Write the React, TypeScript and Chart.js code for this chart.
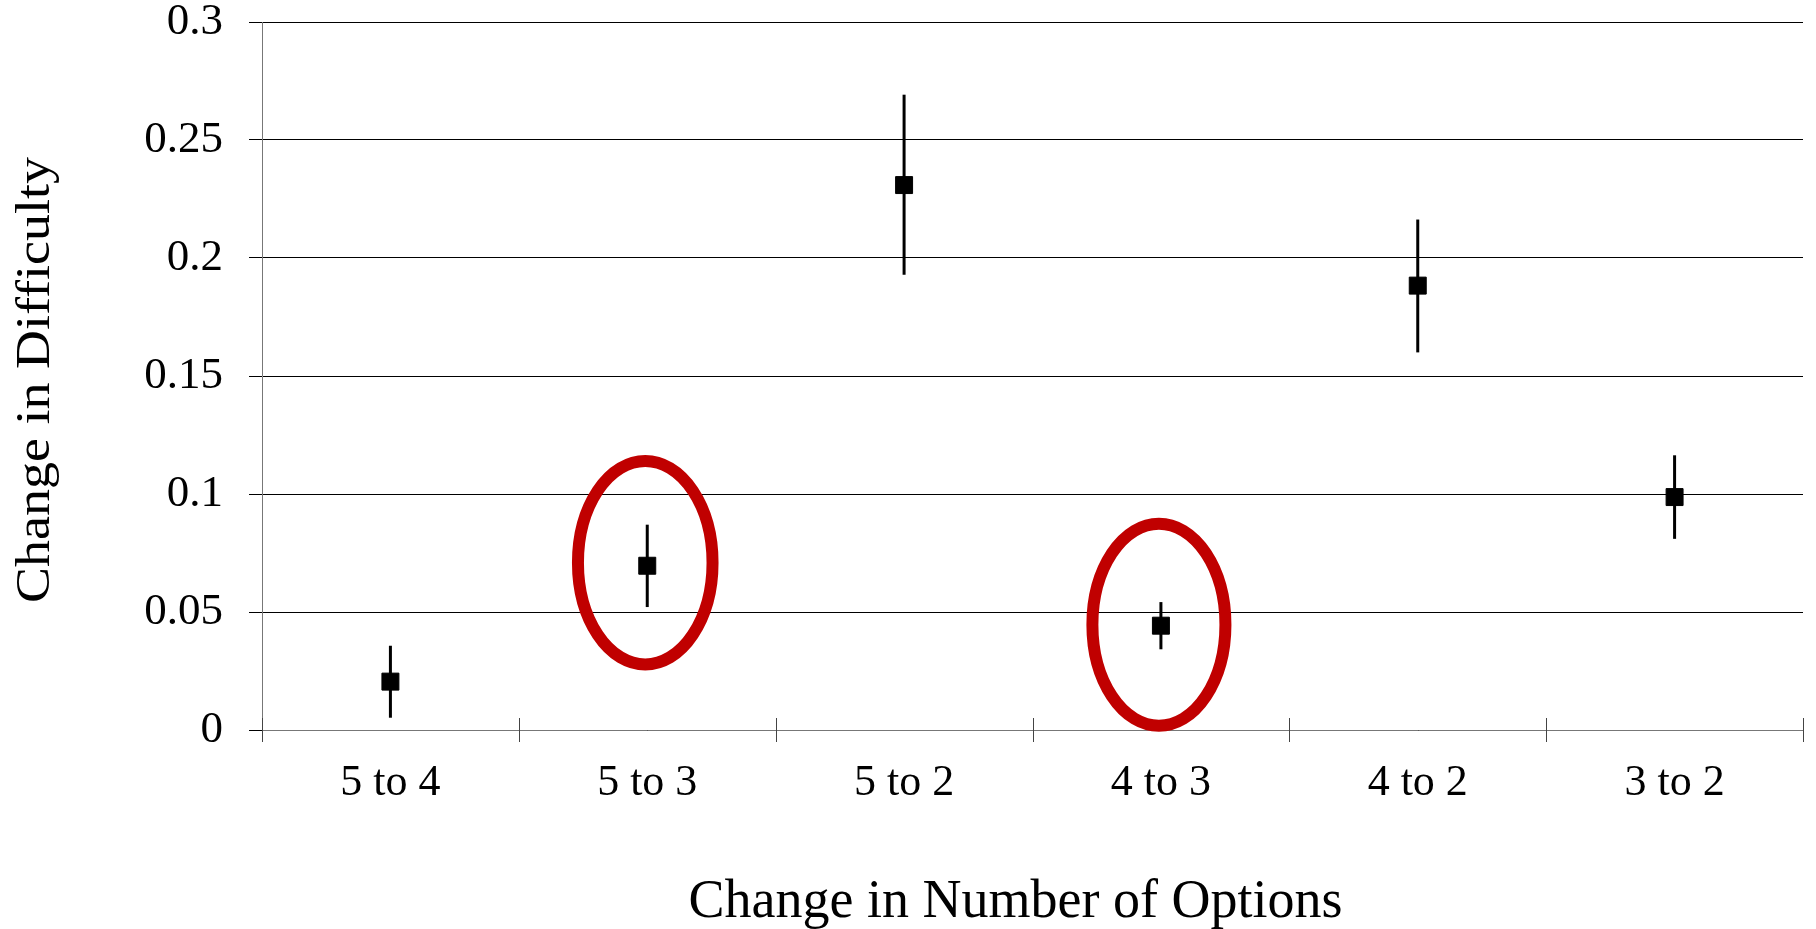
import React, { useEffect, useRef } from "react";
import { Chart, registerables } from "chart.js";

Chart.register(...registerables);

const categories = ["5 to 4", "5 to 3", "5 to 2", "4 to 3", "4 to 2", "3 to 2"];
const values = [0.0205, 0.0696, 0.2309, 0.0442, 0.1883, 0.0987];
const errHigh = [0.0357, 0.087, 0.2692, 0.0542, 0.2163, 0.1164];
const errLow = [0.0052, 0.0521, 0.1929, 0.0342, 0.16, 0.081];
const yTickValues = [0, 0.05, 0.1, 0.15, 0.2, 0.25, 0.3];
const yTickLabels = ["0", "0.05", "0.1", "0.15", "0.2", "0.25", "0.3"];
// highlighted categories: index, centre value, half-width (category units), half-height (value units)
const circleIndex = [1, 3];
const circleCenter = [0.0709, 0.0446];
const circleHalfWidth = [0.262, 0.259];
const circleHalfHeight = [0.0431, 0.0428];

const xTitle = "Change in Number of Options";
const yTitle = "Change in Difficulty";

const FONT = "'Liberation Serif', 'Times New Roman', serif";

const extrasPlugin = {
  id: "extras",
  beforeDatasetsDraw(chart: any) {
    const { ctx, scales } = chart;
    const x = scales.x;
    const y = scales.y;
    ctx.save();
    // error bars
    ctx.strokeStyle = "#000";
    ctx.lineWidth = 3;
    for (let i = 0; i < values.length; i++) {
      const px = x.getPixelForValue(i);
      ctx.beginPath();
      ctx.moveTo(px, y.getPixelForValue(errHigh[i]));
      ctx.lineTo(px, y.getPixelForValue(errLow[i]));
      ctx.stroke();
    }
    // x tick marks crossing axis
    ctx.strokeStyle = "#444";
    ctx.lineWidth = 1;
    for (let i = 0; i <= categories.length; i++) {
      const px = Math.round(x.getPixelForValue(i - 0.5)) + 0.5;
      ctx.beginPath();
      ctx.moveTo(px, y.bottom - 12);
      ctx.lineTo(px, y.bottom + 12);
      ctx.stroke();
    }
    ctx.restore();
  },
  afterDatasetsDraw(chart: any) {
    const { ctx, scales } = chart;
    const x = scales.x;
    const y = scales.y;
    ctx.save();
    ctx.strokeStyle = "#C00000";
    ctx.lineWidth = 12;
    for (let k = 0; k < circleIndex.length; k++) {
      const cx = x.getPixelForValue(circleIndex[k]);
      const cy = y.getPixelForValue(circleCenter[k]);
      const rx = Math.abs(x.getPixelForValue(circleIndex[k] + circleHalfWidth[k]) - cx);
      const ry = Math.abs(y.getPixelForValue(circleCenter[k] + circleHalfHeight[k]) - cy);
      ctx.beginPath();
      ctx.ellipse(cx - 2, cy, rx, ry, 0, 0, Math.PI * 2);
      ctx.stroke();
    }
    // axis titles
    ctx.fillStyle = "#000";
    ctx.font = `54px ${FONT}`;
    ctx.textAlign = "center";
    ctx.textBaseline = "alphabetic";
    ctx.fillText(xTitle, (x.left + x.right) / 2 - 17, 917);
    ctx.translate(49, (y.top + y.bottom) / 2 + 4);
    ctx.rotate(-Math.PI / 2);
    ctx.scale(1, 0.9);
    ctx.fillText(yTitle, 0, 0);
    ctx.restore();
  },
};

export default function App() {
  const ref = useRef<HTMLCanvasElement>(null);
  useEffect(() => {
    if (!ref.current) return;
    const chart = new Chart(ref.current, {
      type: "line",
      data: {
        labels: categories,
        datasets: [
          {
            data: values,
            showLine: false,
            pointStyle: "rect",
            pointRadius: 12,
            pointHoverRadius: 12,
            pointBackgroundColor: "#000",
            pointBorderColor: "#000",
            pointBorderWidth: 1,
          },
        ],
      },
      options: {
        animation: false,
        responsive: true,
        maintainAspectRatio: false,
        events: [],
        layout: { padding: { left: 0, right: 11, top: 22, bottom: 0 } },
        plugins: { legend: { display: false }, tooltip: { enabled: false } },
        scales: {
          x: {
            type: "category",
            offset: true,
            afterFit(scale: any) {
              scale.height = 199;
              scale.paddingLeft = 0;
              scale.paddingRight = 0;
            },
            grid: { display: false, drawOnChartArea: false },
            border: { display: true, color: "#777", width: 1 },
            ticks: {
              color: "#000",
              font: { family: FONT, size: 44 },
              padding: 19,
              maxRotation: 0,
              autoSkip: false,
            },
          },
          y: {
            min: 0,
            max: 0.3,
            afterFit(scale: any) {
              scale.width = 262;
              scale.paddingTop = 0;
              scale.paddingBottom = 0;
            },
            afterBuildTicks(scale: any) {
              scale.ticks = yTickValues.map((v) => ({ value: v }));
            },
            grid: {
              color: "#000",
              lineWidth: 1,
              tickLength: 13,
              tickColor: "#000",
            },
            border: { display: true, color: "#777", width: 1 },
            ticks: {
              color: "#000",
              font: { family: FONT, size: 45, lineHeight: 1 },
              padding: 26,
              callback: (v: any) => {
                const i = yTickValues.findIndex((t) => Math.abs(t - Number(v)) < 1e-9);
                return i >= 0 ? yTickLabels[i] : "";
              },
            },
          },
        },
      },
      plugins: [extrasPlugin],
    });
    return () => chart.destroy();
  }, []);
  return (
    <div style={{ position: "fixed", left: 0, top: 0, width: 1816, height: 929, background: "#fff" }}>
      <canvas ref={ref} />
    </div>
  );
}
